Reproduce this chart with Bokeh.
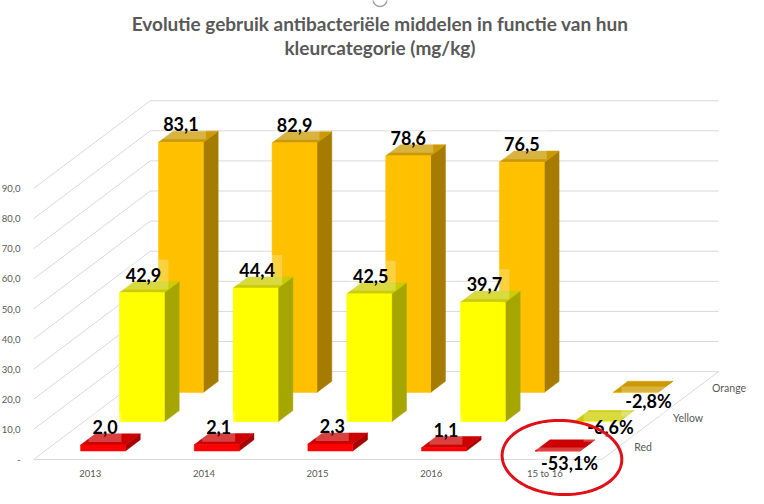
import numpy as np
from bokeh.embed import file_html
from bokeh.models import (ColumnDataSource, FixedTicker, LabelSet, LinearAxis,
                          PolyAnnotation, Range1d)
from bokeh.plotting import figure
from bokeh.core.properties import value
from bokeh.resources import INLINE

# ---- data ----
categories = ["2013", "2014", "2015", "2016", "15 to 16"]
series_names = ["Red", "Yellow", "Orange"]
red = [2.0, 2.1, 2.3, 1.1, -0.531]
yellow = [42.9, 44.4, 42.5, 39.7, -0.066]
orange = [83.1, 82.9, 78.6, 76.5, -0.028]
y_ticks = [0, 10, 20, 30, 40, 50, 60, 70, 80, 90]
y_tick_labels = ["-", "10,0", "20,0", "30,0", "40,0", "50,0", "60,0", "70,0", "80,0", "90,0"]
title_lines = ["Evolutie gebruik antibacteriële middelen in functie van hun",
               "kleurcategorie (mg/kg)"]
front_colors = ["#FF0000", "#FFFF00", "#FFC000"]
side_colors = ["#A60000", "#A6A600", "#A67C00"]
top_colors = ["#CC0000", "#CCCC00", "#CC9A00"]

# ---- layout ----
W, H = 748, 496
LEFT, BOTTOM_Y = 34, 459           # frame origin on the page
PX_C, PX_V = 113.8, 3.01           # pixels per category / per value unit
DX, DY = 39 / PX_C, 29.3 / PX_V    # oblique shift for one series of depth
BAR_X0, BAR_W = 0.315, 0.395       # within a category
BAR_D0, BAR_D = 0.29, 0.38         # within a series
FONT = "Lato"

p = figure(width=W, height=H, output_backend="svg", toolbar_location=None,
           x_range=Range1d(0, (W - LEFT) / PX_C),
           y_range=Range1d(-(H - BOTTOM_Y) / PX_V, BOTTOM_Y / PX_V),
           x_axis_type=None, y_axis_type=None, min_border_left=LEFT, min_border_right=0,
           min_border_top=0, min_border_bottom=0, margin=(0, 0, 0, -2))
p.outline_line_color = None
p.grid.visible = False
p.background_fill_color = "white"


def X(c, d):
    return c + d * DX


def Y(v, d):
    return v + d * DY


n_cat, n_ser = len(categories), len(series_names)

# ---- axes ----
yax = LinearAxis(ticker=FixedTicker(ticks=y_ticks),
                 major_label_overrides={t: s for t, s in zip(y_ticks, y_tick_labels)})
xax = LinearAxis(ticker=FixedTicker(ticks=[i + 0.5 for i in range(n_cat)]),
                 major_label_overrides={i + 0.5: s for i, s in enumerate(categories)},
                 fixed_location=0)
for ax in (xax, yax):
    ax.axis_line_color = None
    ax.major_tick_line_color = None
    ax.minor_tick_line_color = None
    ax.major_tick_out = 0
    ax.major_tick_in = 0
    ax.minor_tick_out = 0
    ax.major_label_text_color = "#595959"
    ax.major_label_text_font = FONT
    ax.major_label_text_font_size = "9.5px"
yax.major_label_standoff = 13
xax.major_label_standoff = 8
p.add_layout(yax, "left")
p.add_layout(xax, "below")

# ---- walls and floor ----
grid_xs, grid_ys = [], []
for t in y_ticks:
    grid_xs.append([X(0, 0), X(0, n_ser), X(n_cat, n_ser)])
    grid_ys.append([Y(t, 0), Y(t, n_ser), Y(t, n_ser)])
grid_xs += [[X(0, 0), X(n_cat, 0), X(n_cat, n_ser)]]
grid_ys += [[Y(0, 0), Y(0, 0), Y(0, n_ser)]]
p.multi_line(grid_xs, grid_ys, line_color="#D9D9D9", line_width=1)

# ---- the small ring at the top of the picture ----
p.scatter([(381 - LEFT) / PX_C], [(BOTTOM_Y + 1) / PX_V], size=14, marker="circle",
          fill_color="white", line_color="#A6A6A6", line_width=1.5)

# ---- bars, back row first ----
all_values = [red, yellow, orange]
label_rows = {"x": [], "y": [], "t": []}
boxes = {"l": [], "r": [], "b": [], "t": []}
label_dx = [2, 1.5, 0]           # px
pct_dx = [12, 14, 13]            # px
pct_dy = [-11.5, -5, -9]         # px
box_half = {3: 16.5, 4: 22, 5: 27, 6: 32}   # px, by label length
for s in reversed(range(n_ser)):
    vals = all_values[s]
    d0, d1 = s + BAR_D0, s + BAR_D0 + BAR_D
    fx, fy, sx, sy, tx, ty = [], [], [], [], [], []
    for c, raw in enumerate(vals):
        v = max(raw, 0)
        x0, x1 = c + BAR_X0, c + BAR_X0 + BAR_W
        fx.append([X(x0, d0), X(x1, d0), X(x1, d0), X(x0, d0)])
        fy.append([Y(0, d0), Y(0, d0), Y(v, d0), Y(v, d0)])
        sx.append([X(x1, d0), X(x1, d1), X(x1, d1), X(x1, d0)])
        sy.append([Y(0, d0), Y(0, d1), Y(v, d1), Y(v, d0)])
        tx.append([X(x0, d0), X(x1, d0), X(x1, d1), X(x0, d1)])
        ty.append([Y(v, d0), Y(v, d0), Y(v, d1), Y(v, d1)])
        mid = X((x0 + x1) / 2, d0)
        if raw >= 0:
            lx = mid + label_dx[s] / PX_C
            ly = Y(v, d0) + 18 / PX_V
            text = f"{raw:.1f}".replace(".", ",")
        else:
            lx = mid + pct_dx[s] / PX_C
            ly = Y(v, d0) + pct_dy[s] / PX_V
            text = f"{raw * 100:.1f}%".replace(".", ",")
        label_rows["x"].append(lx)
        label_rows["y"].append(ly)
        label_rows["t"].append(text)
        half_w = box_half[len(text)] / PX_C
        boxes["l"].append(lx - half_w)
        boxes["r"].append(lx + half_w + (3 if len(text) == 4 else 0) / PX_C)
        boxes["b"].append(ly - 15 / PX_V)
        boxes["t"].append(ly + 15 / PX_V)
    p.patches(sx, sy, fill_color=side_colors[s], line_color=side_colors[s], line_width=0.5)
    p.patches(tx, ty, fill_color=top_colors[s], line_color=top_colors[s], line_width=0.5)
    p.patches(fx, fy, fill_color=front_colors[s], line_color=front_colors[s], line_width=0.5)

# translucent backgrounds of the data labels
p.quad(left=boxes["l"], right=boxes["r"], bottom=boxes["b"], top=boxes["t"],
       fill_color="white", fill_alpha=0.25, line_color=None)

# ---- series names beside the floor ----
name_src = ColumnDataSource(dict(x=[X(n_cat, s + 0.5) + 13 / PX_C for s in range(n_ser)],
                                 y=[Y(0, s + 0.5) - 2 / PX_V for s in range(n_ser)],
                                 t=series_names))
p.add_layout(LabelSet(x="x", y="y", text="t", source=name_src, text_align="left",
                      text_baseline="middle", text_font=value(FONT),
                      text_font_size="10.5px", text_color="#595959"))

# ---- title ----
title_src = ColumnDataSource(dict(x=[(381 - LEFT) / PX_C] * 2,
                                  y=[(BOTTOM_Y - 23) / PX_V, (BOTTOM_Y - 47) / PX_V],
                                  t=title_lines))
p.add_layout(LabelSet(x="x", y="y", text="t", source=title_src, text_align="center",
                      text_baseline="middle", text_font=value(FONT), text_font_style="bold",
                      text_font_size="19px", text_color="#595959"))

# ---- data labels ----
p.add_layout(LabelSet(x="x", y="y", text="t", source=ColumnDataSource(label_rows),
                      text_align="center", text_baseline="middle", text_font=value(FONT),
                      text_font_style="bold", text_font_size="18px", text_color="black"))

# ---- red ring around the last category ----
theta = np.linspace(0, 2 * np.pi, 121)
tilt = np.radians(-3)
ex = 60 * np.cos(theta)
ey = 37 * np.sin(theta)
cx = X(4, 0) + 74 / PX_C
cy = 2 / PX_V
p.add_layout(PolyAnnotation(xs=list(cx + (ex * np.cos(tilt) - ey * np.sin(tilt)) / PX_C),
                            ys=list(cy + (ex * np.sin(tilt) + ey * np.cos(tilt)) / PX_V),
                            fill_color=None, line_color="#E01018", line_width=3, line_alpha=1))

open("out.html", "w").write(file_html(p, INLINE))
